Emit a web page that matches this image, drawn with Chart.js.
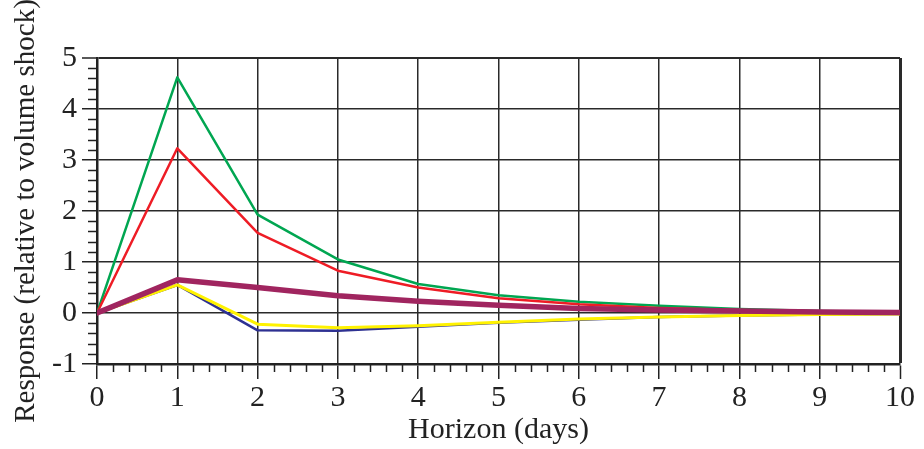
<!DOCTYPE html>
<html><head><meta charset="utf-8">
<script src="https://cdn.jsdelivr.net/npm/chart.js@4/dist/chart.umd.min.js"></script>
<style>html,body{margin:0;padding:0;background:#fff}#wrap{width:924px;height:449px}</style>
</head><body><div id="wrap"><canvas id="c" width="924" height="449"></canvas></div>
<script>
const horizons = [0,1,2,3,4,5,6,7,8,9,10];
const greenSeries  = [0, 4.62, 1.93, 1.05, 0.57, 0.35, 0.22, 0.14, 0.08, 0.04, 0.02];
const redSeries    = [0, 3.23, 1.57, 0.83, 0.50, 0.29, 0.17, 0.10, 0.06, 0.03, 0.01];
const purpleSeries = [0, 0.65, 0.50, 0.34, 0.23, 0.15, 0.09, 0.06, 0.04, 0.02, 0.01];
const yellowSeries = [0, 0.55, -0.22, -0.29, -0.25, -0.18, -0.12, -0.08, -0.05, -0.03, -0.02];
const blueSeries   = [0, 0.55, -0.34, -0.35, -0.27, -0.19, -0.13, -0.08, -0.05, -0.03, -0.02];
const yTickLabels = ['-1','0','1','2','3','4','5'];

const FONT = "'Liberation Serif', 'DejaVu Serif', serif";
const GRID = '#2a2a2a';

const pts = arr => arr.map((v,i)=>({x:horizons[i], y:v}));

const minorTicks = {
  id: 'minorTicks',
  afterDraw(chart) {
    const {ctx, scales:{x, y}} = chart;
    ctx.save();
    ctx.strokeStyle = '#222';
    ctx.lineWidth = 1.5;
    for (let k = -5; k <= 25; k++) {
      if (k % 5 === 0) continue;
      const py = Math.round(y.getPixelForValue(k / 5)) + 0.5;
      ctx.beginPath(); ctx.moveTo(x.left - 9, py); ctx.lineTo(x.left, py); ctx.stroke();
    }
    for (let k = 0; k <= 50; k++) {
      if (k % 5 === 0) continue;
      const px = Math.round(x.getPixelForValue(k / 5)) + 0.5;
      ctx.beginPath(); ctx.moveTo(px, y.bottom); ctx.lineTo(px, y.bottom + 8); ctx.stroke();
    }
    ctx.restore();
  }
};

new Chart(document.getElementById('c'), {
  type: 'line',
  data: {
    datasets: [
      {label:'Purple', data: pts(purpleSeries), borderColor:'#A0255F', borderWidth:5.5, order:1},
      {label:'Red', data: pts(redSeries), borderColor:'#EE1C25', borderWidth:2.5, order:2},
      {label:'Green', data: pts(greenSeries), borderColor:'#00A651', borderWidth:2.5, order:3},
      {label:'Yellow', data: pts(yellowSeries), borderColor:'#FFF200', borderWidth:3, order:4},
      {label:'Blue', data: pts(blueSeries), borderColor:'#2E3192', borderWidth:2.5, order:5}
    ]
  },
  options: {
    responsive: false,
    animation: false,
    elements: { point: { radius: 0 }, line: { tension: 0, borderCapStyle:'round', borderJoinStyle:'round' } },
    layout: { padding: { top: 58, right: 24, left: 0, bottom: 0 } },
    plugins: { legend: { display: false }, tooltip: { enabled: false } },
    scales: {
      x: {
        type: 'linear', min: 0, max: 10,
        afterFit(s) { s.height = 85; },
        ticks: { stepSize: 1, color: '#222', font: { family: FONT, size: 30 }, padding: 1, maxRotation: 0 },
        grid: { color: GRID, lineWidth: c => c.tick && c.tick.value === 10 ? 3 : 1.5, tickLength: 15, tickColor: '#222', tickWidth: 1.5 },
        border: { color: '#222', width: 2.5 },
        title: { display: true, text: 'Horizon (days)', color: '#222', font: { family: FONT, size: 30 }, padding: { top: 0, bottom: 1 } }
      },
      y: {
        min: -1, max: 5,
        afterFit(s) { s.width = 97; },
        ticks: { stepSize: 1, color: '#222', font: { family: FONT, size: 30 }, padding: 5,
                 callback: (v, i) => yTickLabels[i] },
        grid: { color: GRID, lineWidth: c => c.tick && c.tick.value === 5 ? 2 : 1.5, tickLength: 15, tickColor: '#222', tickWidth: 1.5 },
        border: { color: '#222', width: 2.5 },
        title: { display: true, text: 'Response (relative to volume shock)', color: '#222', font: { family: FONT, size: 29 }, padding: { top: 9, bottom: 0 } }
      }
    }
  },
  plugins: [minorTicks]
});
</script>
</body></html>
